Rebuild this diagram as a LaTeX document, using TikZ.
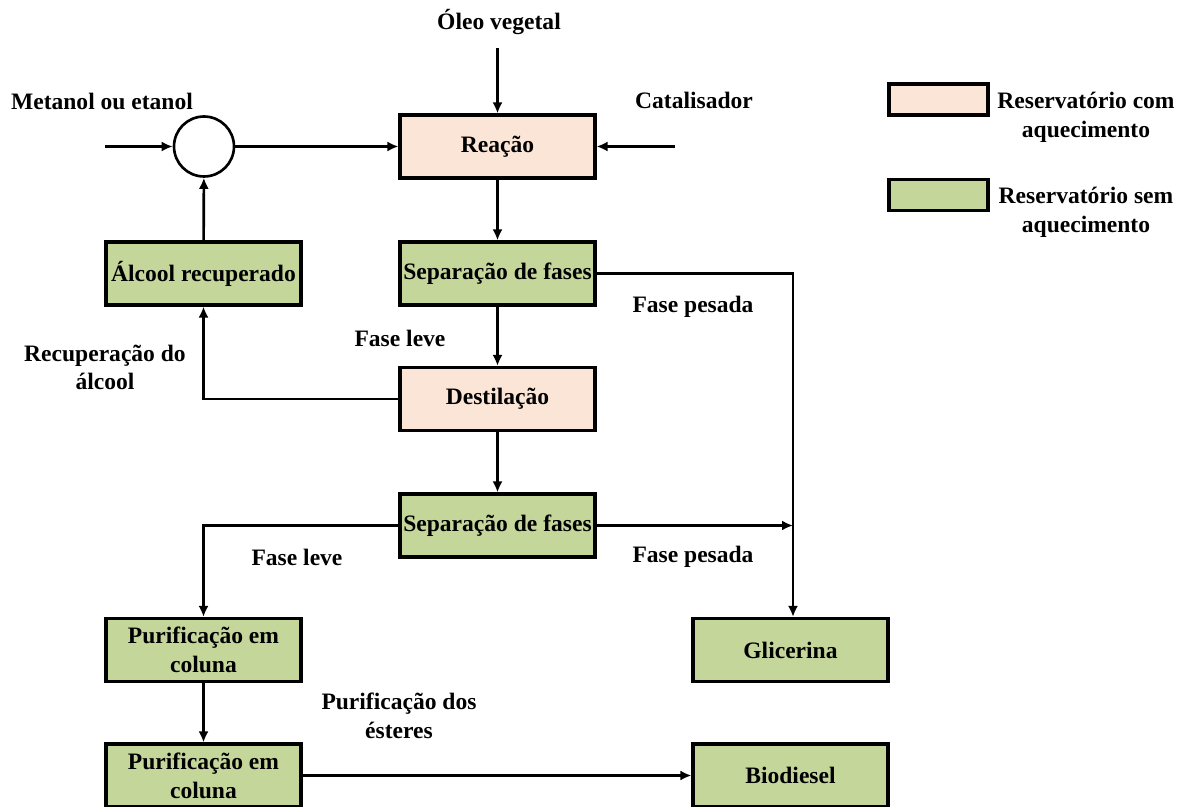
\documentclass[tikz,border=0pt]{standalone}
\usepackage{fontspec}
\setmainfont{Liberation Serif}
\usetikzlibrary{positioning, arrows.meta}

\definecolor{corQuente}{RGB}{251,229,214}
\definecolor{corFrio}{RGB}{197,214,155}

\begin{document}
\begin{tikzpicture}[> = {Latex[length = 0.22cm, width = 0.2cm]}, x = 0.02cm, y = -0.02cm,
	font = \fontsize{13.4}{16.4}\selectfont\bfseries,
	bloco/.style = {draw, line width = 1.8pt, minimum width = 3.9cm, minimum height = 1.26cm, inner sep = 0pt, align = center},
	blocoQ/.style = {bloco, fill = corQuente},
	blocoF/.style = {bloco, fill = corFrio},
	fluxo/.style = {->, line width = 1.5pt}]

	% Page size
	
	\useasboundingbox (0, 0) rectangle (1181, 807);
	
	% Process blocks
	
	\node [blocoQ] (reacao) at (497.5, 146.5) {Reação};
	\node [blocoF] (sep1) at (497.5, 273.5) {Separação de fases};
	\node [blocoQ] (dest) at (497.5, 399) {Destilação};
	\node [blocoF] (sep2) at (497.5, 525.5) {Separação de fases};
	\node [blocoF] (alcool) at (203.5, 273.5) {Álcool recuperado};
	\node [blocoF] (pur1) at (203.5, 650) {Purificação em\\coluna};
	\node [blocoF] (pur2) at (203.5, 775.5) {Purificação em\\coluna};
	\node [blocoF] (glic) at (790.5, 650) {Glicerina};
	\node [blocoF] (bio) at (790.5, 775.5) {Biodiesel};
	
	% Mixer
	
	\node [draw, circle, line width = 1.5pt, minimum size = 1.2cm, inner sep = 0pt] (mist) at (204, 146.5) {};
	
	% Inputs
	
	\node (oleo) at (499, 22) {Óleo vegetal};
	\node (metanol) at (102, 101) {Metanol ou etanol};
	\node (cat) at (694, 100) {Catalisador};
	
	\coordinate (oleo-in) at (497.5, 48);
	\coordinate (met-in) at (105, 146.5);
	\coordinate (cat-in) at (675, 146.5);
	
	% Flow lines
	
	\draw [fluxo] (oleo-in) -- (reacao);
	\draw [fluxo] (met-in) -- (mist);
	\draw [fluxo] (mist) -- (reacao);
	\draw [fluxo] (cat-in) -- (reacao);
	\draw [fluxo] (reacao) -- (sep1);
	\draw [fluxo] (sep1) -- (dest);
	\draw [fluxo] (dest) -- (sep2);
	\draw [fluxo] (alcool) -- (mist);
	\draw [fluxo] (dest.west) -| (alcool.south);
	\draw [fluxo] (sep1.east) -| ([xshift = 0.05cm] glic.north);
	
	\coordinate (junta) at ([xshift = 0.05cm] glic.north |- sep2.east);
	\draw [fluxo] (sep2.east) -- (junta);
	\draw [fluxo] (sep2.west) -| (pur1.north);
	\draw [fluxo] (pur1) -- (pur2);
	\draw [fluxo] (pur2) -- (bio);
	
	% Stream labels
	
	\node at (693, 307) {Fase pesada};
	\node at (400, 338) {Fase leve};
	\node [align = center] at (105, 367.5) {Recuperação do\\álcool};
	\node at (297, 557) {Fase leve};
	\node at (693, 557) {Fase pesada};
	\node [align = center] at (399, 716) {Purificação dos\\ésteres};
	
	% Legend
	
	\node [draw, line width = 1.8pt, fill = corQuente, minimum width = 1.98cm, minimum height = 0.62cm, inner sep = 0pt] (leg-q) at (938.5, 99.5) {};
	\node [draw, line width = 1.8pt, fill = corFrio, minimum width = 1.98cm, minimum height = 0.62cm, inner sep = 0pt] (leg-f) at (938.5, 195) {};
	\node [align = center] (leg-q-txt) at (1086, 117.5) {Reservatório com\\aquecimento};
	\node [align = center] (leg-f-txt) at (1086, 212.5) {Reservatório sem\\aquecimento};
	
\end{tikzpicture}
\end{document}
